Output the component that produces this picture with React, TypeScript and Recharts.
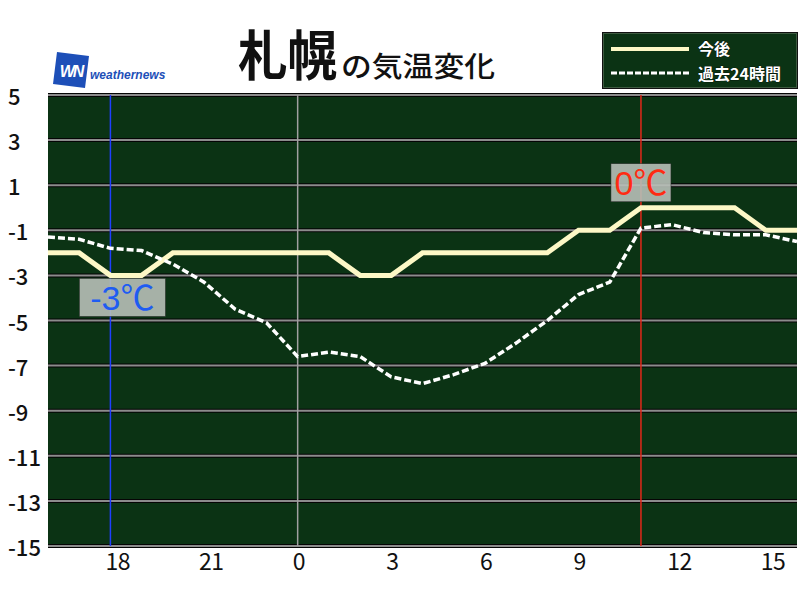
import React from 'react';
import {
  LineChart,
  Line,
  XAxis,
  YAxis,
  CartesianGrid,
  ReferenceLine,
  ReferenceDot,
} from 'recharts';

// hours 16:00 yesterday -> 16:00 today (24+ = next day)
const hours = [16, 17, 18, 19, 20, 21, 22, 23, 24, 25, 26, 27, 28, 29, 30, 31, 32, 33, 34, 35, 36, 37, 38, 39, 40];
const forecast = [-2, -2, -3, -3, -2, -2, -2, -2, -2, -2, -3, -3, -2, -2, -2, -2, -2, -1, -1, 0, 0, 0, 0, -1, -1];
const past24h = [
  -1.3, -1.4, -1.8, -1.9, -2.5, -3.3, -4.5, -5.1, -6.6, -6.4, -6.6, -7.5, -7.8,
  -7.4, -6.9, -6.0, -5.0, -3.85, -3.3, -0.9, -0.75, -1.1, -1.2, -1.2, -1.5,
];
const hourTicks = [18, 21, 24, 27, 30, 33, 36, 39];
const tempTicks = [5, 3, 1, -1, -3, -5, -7, -9, -11, -13, -15];

const nowHour = 35;
const minHour = 18;
const midnight = 24;

const maxNote = { hour: 35, temp: 0, label: '0℃' };
const minNote = { hour: 18, temp: -3, label: '-3℃' };

const data = hours.map((h, i) => ({ hour: h, forecast: forecast[i], past: past24h[i] }));

const FONT = '"Liberation Sans", "Noto Sans CJK JP", sans-serif';
const JP = '"Noto Sans CJK JP", sans-serif';
const PLOT_BG = '#0b3314';

function NoteBox(props: any) {
  const { cx, cy, text, color, below } = props;
  const w = below ? 86 : 60;
  const h = 38;
  const x = below ? cx - 31 : cx - w / 2;
  const y = below ? cy + 3 : cy - h - 6;
  return (
    <g>
      <rect x={x} y={y} width={w} height={h} fill="#b7bfb7" fillOpacity={0.9} stroke="#2a2a2a" strokeWidth={0.5} />
      <text
        x={x + w / 2}
        y={y + h / 2 + 12.5}
        textAnchor="middle"
        fontFamily={FONT}
        fontSize={34}
        fill={color}
      >
        {text}
      </text>
    </g>
  );
}

function YTick(props: any) {
  const { y, payload } = props;
  return (
    <text x={8} y={y + 10} fontFamily={JP} fontSize={22} fontWeight={500} fill="#111">
      {payload.value}
    </text>
  );
}

function XTick(props: any) {
  const { x, y, payload } = props;
  return (
    <text x={x - 5} y={y + 24} textAnchor="start" fontFamily={JP} fontSize={23} letterSpacing={-0.5} fill="#111">
      {payload.value % 24}
    </text>
  );
}

function Header() {
  return (
    <>
      <svg style={{ position: 'absolute', left: 52, top: 50 }} width={120} height={42}>
        <polygon points="5,2 37,6 33,38 1,34" fill="#1d4fb8" />
        <text x={19} y={27} textAnchor="middle" fontFamily={FONT} fontWeight={700} fontStyle="italic" fontSize={16} fill="#fff" letterSpacing={-2}>
          WN
        </text>
        <text x={38} y={29} fontFamily={FONT} fontWeight={700} fontStyle="italic" fontSize={12} fill="#1d4fb8">
          weathernews
        </text>
      </svg>
      <svg style={{ position: 'absolute', left: 0, top: 0 }} width={520} height={95}>
        <text
          x={238}
          y={76}
          fontFamily={JP}
          fontWeight={700}
          fontSize={54}
          textLength={99}
          lengthAdjust="spacingAndGlyphs"
          fill="#111"
        >
          札幌
        </text>
        <text
          x={341}
          y={77}
          fontFamily={JP}
          fontWeight={500}
          fontSize={28}
          textLength={154}
          lengthAdjust="spacingAndGlyphs"
          fill="#111"
        >
          の気温変化
        </text>
      </svg>
      <div
        style={{
          position: 'absolute',
          left: 602,
          top: 32,
          width: 194,
          height: 55,
          background: PLOT_BG,
          border: '1px solid #111',
          boxShadow: 'inset 0 0 0 1px #3d5a40',
        }}
      >
        <svg width={194} height={55} style={{ position: 'absolute', left: 0, top: 0 }}>
          <line x1={8} y1={16} x2={86} y2={16} stroke="#fdf8c6" strokeWidth={4} />
          <line x1={8} y1={40} x2={86} y2={40} stroke="#ffffff" strokeWidth={3} strokeDasharray="6 2" />
          {[
            { t: '今後', y: 22 },
            { t: '過去24時間', y: 47 },
          ].map((r) => (
            <text
              key={r.t}
              x={95}
              y={r.y}
              fontFamily={JP}
              fontWeight={700}
              fontSize={16}
              fill="#fff"
              stroke="#000"
              strokeWidth={0.6}
              paintOrder="stroke"
            >
              {r.t}
            </text>
          ))}
        </svg>
      </div>
    </>
  );
}

export default function App() {
  return (
    <div style={{ position: 'fixed', left: 0, top: 0, width: 800, height: 600, background: '#fff' }}>
      <LineChart width={800} height={600} data={data} margin={{ top: 95, right: 3, left: 0, bottom: 0 }}>
        <CartesianGrid vertical={false} fill={PLOT_BG} fillOpacity={1} stroke="#050505" strokeWidth={4} />
        <CartesianGrid vertical={false} stroke="#8c8c8c" strokeWidth={2} />
        <XAxis
          dataKey="hour"
          type="number"
          domain={[16, 40]}
          ticks={hourTicks}
          height={54}
          axisLine={false}
          tickLine={false}
          tickSize={0}
          tickMargin={0}
          tick={<XTick />}
          interval={0}
        />
        <YAxis
          type="number"
          domain={[-15, 5]}
          ticks={tempTicks}
          width={48}
          axisLine={false}
          tickLine={false}
          tickSize={0}
          tickMargin={0}
          tick={<YTick />}
          interval={0}
        />
        <ReferenceLine x={midnight} stroke="#a0a0a0" strokeWidth={1.5} />
        <ReferenceLine x={minHour} stroke="#1f3fff" strokeWidth={1.5} />
        <ReferenceLine x={nowHour} stroke="#e2281a" strokeWidth={1.5} />
        <Line
          dataKey="forecast"
          type="linear"
          stroke="#fdf8c6"
          strokeWidth={5}
          dot={false}
          activeDot={false}
          isAnimationActive={false}
        />
        <Line
          dataKey="past"
          type="linear"
          stroke="#ffffff"
          strokeWidth={3.5}
          strokeDasharray="7 3"
          dot={false}
          activeDot={false}
          isAnimationActive={false}
        />
        <ReferenceDot
          x={maxNote.hour}
          y={maxNote.temp}
          r={1}
          ifOverflow="visible"
          shape={(p: any) => <NoteBox {...p} text={maxNote.label} color="#ff2b12" />}
        />
        <ReferenceDot
          x={minNote.hour}
          y={minNote.temp}
          r={1}
          ifOverflow="visible"
          shape={(p: any) => <NoteBox {...p} text={minNote.label} color="#1e5cf2" below />}
        />
      </LineChart>
      <Header />
    </div>
  );
}
